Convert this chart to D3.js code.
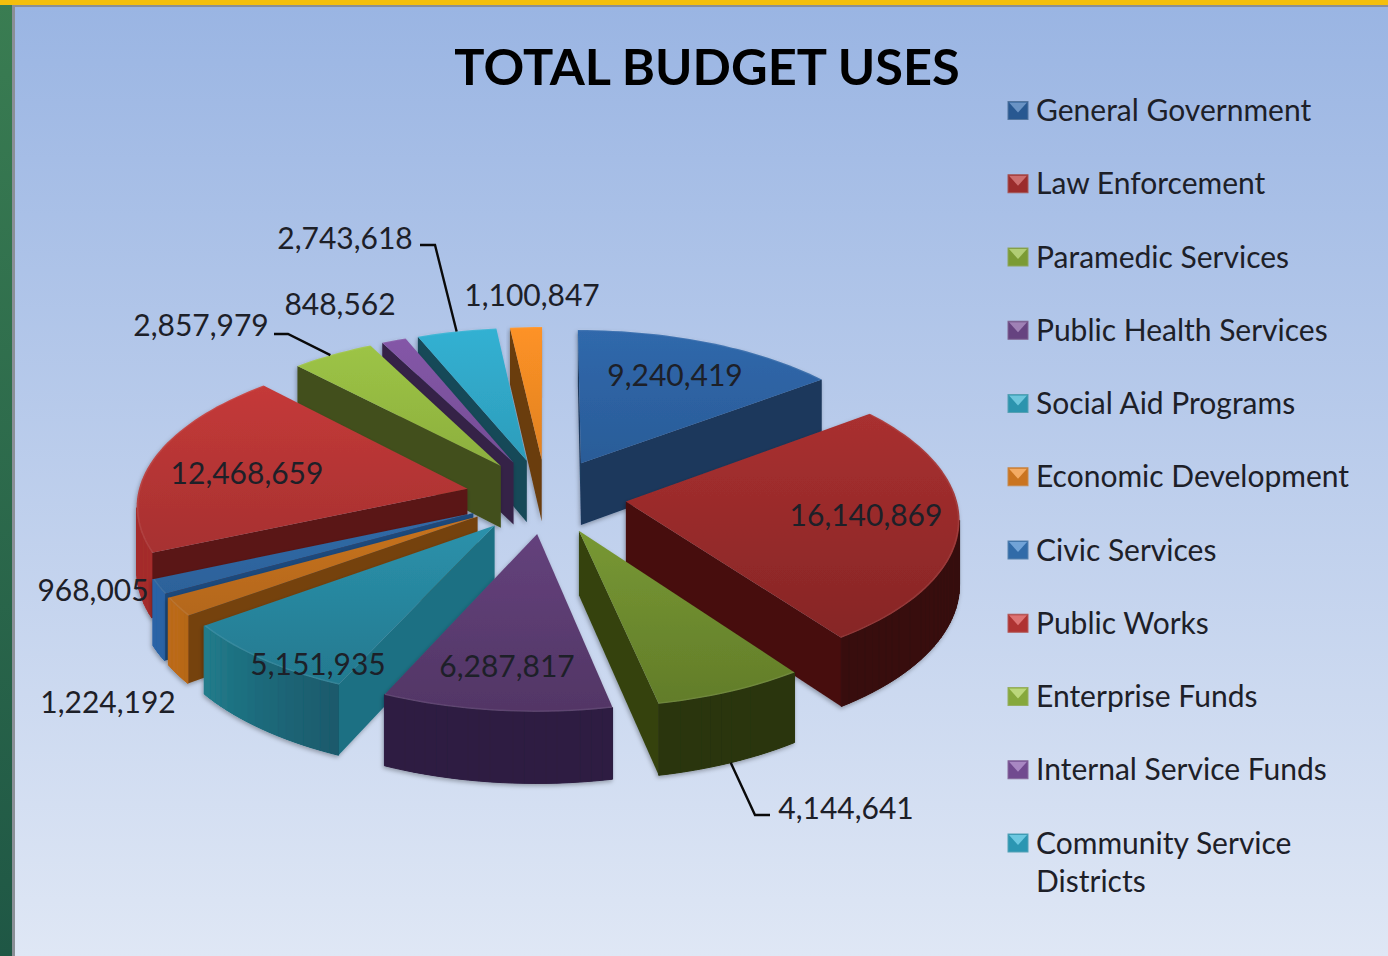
<!DOCTYPE html>
<html><head><meta charset="utf-8">
<script src="https://cdn.jsdelivr.net/npm/d3@7/dist/d3.min.js"></script>
<style>html,body{margin:0;padding:0;background:#fff;overflow:hidden}svg{display:block}text{font-family:Lato,"Open Sans",sans-serif}</style>
</head><body><svg id="c" width="1388" height="956"></svg>
<script>
const chartTitle = "TOTAL BUDGET USES";
const values = [9240419,16140869,4144641,6287817,5151935,1224192,968005,12468659,2857979,848562,2743618,1100847];
const legendLines = [["General Government"],["Law Enforcement"],["Paramedic Services"],["Public Health Services"],["Social Aid Programs"],["Economic Development"],["Civic Services"],["Public Works"],["Enterprise Funds"],["Internal Service Funds"],["Community Service","Districts"]];
const topColors  = ["#3069ad","#b83434","#92b93e","#7a5098","#34b0cf","#f08a26","#3a7fc8","#d03d3c","#a0c847","#8658aa","#33b2d4","#ff9326"];
const sideColors = ["#1a375c","#461110","#34420f","#36254f","#1c7083","#75430f","#1f4a7c","#5a1616","#42501b","#342347","#164858","#6a3d10"];
const wallDark   = ["#1a375c","#370c0b","#2a3510","#2e1f42","#1a5a6c","#75430f","#1f4a7c","#5a1616","#42501b","#342347","#164858","#6a3d10"];
const wallLit    = ["#1a375c","#370c0b","#2a3510","#2e1f42","#22808f","#bb6a1a","#2a64a6","#a52d2c","#42501b","#342347","#164858","#6a3d10"];
// label layout: centre of each value label, in slice order
const labelX = [675,866,846,507,318,108,93,247,201,340,345,532];
const labelY = [375,515,808,666,664,702,590,473,325,304,238,295];
// leader elbows, by slice index
const leaders = [{i:2,hx:770,ey:815,ax:755,frac:.5},{i:8,hx:274,ey:334,ax:288,frac:.47},{i:10,hx:420,ey:245,ax:435,frac:.5}];

const W=1388,H=956, cx=546, cy=496, R=330, k=.462, d=10.2, explode=.244, depth=63;
const svg=d3.select("#c");
const defs=svg.append("defs");
const bg=defs.append("linearGradient").attr("id","bg").attr("x1",0).attr("x2",0).attr("y1",0).attr("y2",1);
bg.append("stop").attr("offset",0).attr("stop-color","#9ab5e3");
bg.append("stop").attr("offset",1).attr("stop-color","#dfe7f5");
const gs=defs.append("linearGradient").attr("id","side").attr("x1",0).attr("x2",0).attr("y1",0).attr("y2",1);
gs.append("stop").attr("offset",0).attr("stop-color","#3a7d52");
gs.append("stop").attr("offset",1).attr("stop-color","#1f5745");
const f=defs.append("filter").attr("id","sh").attr("x","-10%").attr("y","-10%").attr("width","120%").attr("height","125%");
f.append("feDropShadow").attr("dx",-1).attr("dy",2).attr("stdDeviation",2).attr("flood-color","#000").attr("flood-opacity",.3);

svg.append("rect").attr("width",W).attr("height",H).attr("fill","url(#side)");
svg.append("rect").attr("x",12).attr("y",5).attr("width",W-12).attr("height",H-5).attr("fill","#8a8f96");
svg.append("rect").attr("x",0).attr("y",0).attr("width",W).attr("height",5).attr("fill","#f4bf0c");
svg.append("rect").attr("x",15).attr("y",7).attr("width",W-15).attr("height",H-7).attr("fill","url(#bg)");

const arcs=d3.pie().sort(null).value(v=>v)(values);
const line=d3.line();
function proj(mid,a,r,h){
  const X=r*Math.sin(a)+explode*Math.sin(mid), Z=-(r*Math.cos(a)+explode*Math.cos(mid));
  const s=d/(d-Z);
  return [cx+R*X*s, cy+R*k*Z*s+(h?depth*s:0)];
}
const area=p=>d3.polygonArea(p);
const shade=(c,t)=>d3.interpolateRgb(c,"#000")(t);

const slices=arcs.map((a,i)=>{
  const mid=(a.startAngle+a.endAngle)/2, n=Math.max(2,Math.ceil((a.endAngle-a.startAngle)/0.03));
  const angs=d3.range(n+1).map(j=>a.startAngle+(a.endAngle-a.startAngle)*j/n);
  return {i,a,mid,angs,apexY:proj(mid,0,0,false)[1]};
}).sort((p,q)=>p.apexY-q.apexY);

slices.forEach(s=>{
  const {i,a,mid,angs}=s;
  const grad=defs.append("linearGradient").attr("id","t"+i).attr("gradientUnits","userSpaceOnUse").attr("x1",0).attr("x2",0).attr("y1",320).attr("y2",720);
  grad.append("stop").attr("offset",0).attr("stop-color",topColors[i]);
  grad.append("stop").attr("offset",1).attr("stop-color",shade(topColors[i],.34));
  const g=svg.append("g").attr("filter","url(#sh)");
  const A0=proj(mid,0,0,false),A1=proj(mid,0,0,true);
  [[a.startAngle,-1],[a.endAngle,1]].forEach(([ang,sign])=>{
    const q=[A0,proj(mid,ang,1,false),proj(mid,ang,1,true),A1];
    if(area(q)*sign>0) return;
    g.append("path").attr("d",line(q)+"Z").attr("fill",sideColors[i]);
  });
  const front=d3.pairs(angs).filter(([u,v])=>area([proj(mid,u,1,false),proj(mid,v,1,false),proj(mid,v,1,true),proj(mid,u,1,true)])>0);
  if(front.length){
    const us=[front[0][0],...front.map(p=>p[1])];
    const mc=d3.interpolateRgb(wallDark[i],wallLit[i])(Math.max(0,Math.min(1,((us[0]+us[us.length-1])/2*180/Math.PI-205)/32)));
    g.append("path").attr("d",line([...us.map(u=>proj(mid,u,1,false)),...us.slice().reverse().map(u=>proj(mid,u,1,true))])+"Z").attr("fill",mc);
  }
  front.forEach(([u,v])=>{
    const q=[proj(mid,u,1,false),proj(mid,v,1,false),proj(mid,v,1,true),proj(mid,u,1,true)];
    const deg=(u+v)/2*180/Math.PI;
    const t=Math.max(0,Math.min(1,(deg-205)/32));
    const col=d3.interpolateRgb(wallDark[i],wallLit[i])(t);
    g.append("path").attr("d",line(q)+"Z").attr("fill",col).attr("stroke",col).attr("stroke-width",1);
  });
  const top=[A0,...angs.map(u=>proj(mid,u,1,false))];
  g.append("path").attr("d",line(top)+"Z").attr("fill",`url(#t${i})`);
  g.append("path").attr("d",line(angs.map(u=>proj(mid,u,.997,false)))).attr("fill","none").attr("stroke","#fff").attr("stroke-opacity",.08).attr("stroke-width",1.5);
});

// leader lines
leaders.forEach(l=>{
  const a=arcs[l.i],mid=(a.startAngle+a.endAngle)/2,ang=a.startAngle+(a.endAngle-a.startAngle)*l.frac;
  const p=proj(mid,ang,1,l.i===2);
  svg.append("path").attr("d",line([[l.hx,l.ey],[l.ax,l.ey],p])).attr("fill","none").attr("stroke","#0a0a0a").attr("stroke-width",2.4);
});

// value labels
const fmt=d3.format(",");
svg.append("g").selectAll("text").data(values).join("text")
  .attr("x",(v,i)=>labelX[i]).attr("y",(v,i)=>labelY[i]).attr("dy","0.35em").attr("text-anchor","middle")
  .attr("font-size",30).attr("fill","#1d2028").text(fmt);

// title
svg.append("text").attr("x",707).attr("y",85).attr("text-anchor","middle").attr("font-size",50.5).attr("font-weight",700).attr("fill","#000").text(chartTitle);

// legend
const ly=d3.scaleLinear().domain([0,10]).range([110.5,843]);
const lg=svg.append("g").selectAll("g").data(legendLines).join("g").attr("transform",(d,i)=>`translate(1008,${ly(i)})`);
lg.append("rect").attr("x",0).attr("y",-9).attr("width",20).attr("height",18).attr("fill",(d,i)=>shade(topColors[i],.16)).attr("stroke",(d,i)=>d3.interpolateRgb(topColors[i],"#888")(.4)).attr("stroke-width",1);
lg.append("path").attr("d",line([[1,-8],[19,-8],[10,2]])+"Z").attr("fill",(d,i)=>d3.interpolateRgb(topColors[i],"#fff")(.28));
lg.each(function(d){
  const t=d3.select(this);
  d.forEach((s,j)=>t.append("text").attr("x",28).attr("y",j*38).attr("dy","0.35em").attr("font-size",30).attr("fill","#1d2028").text(s));
});
</script></body></html>
